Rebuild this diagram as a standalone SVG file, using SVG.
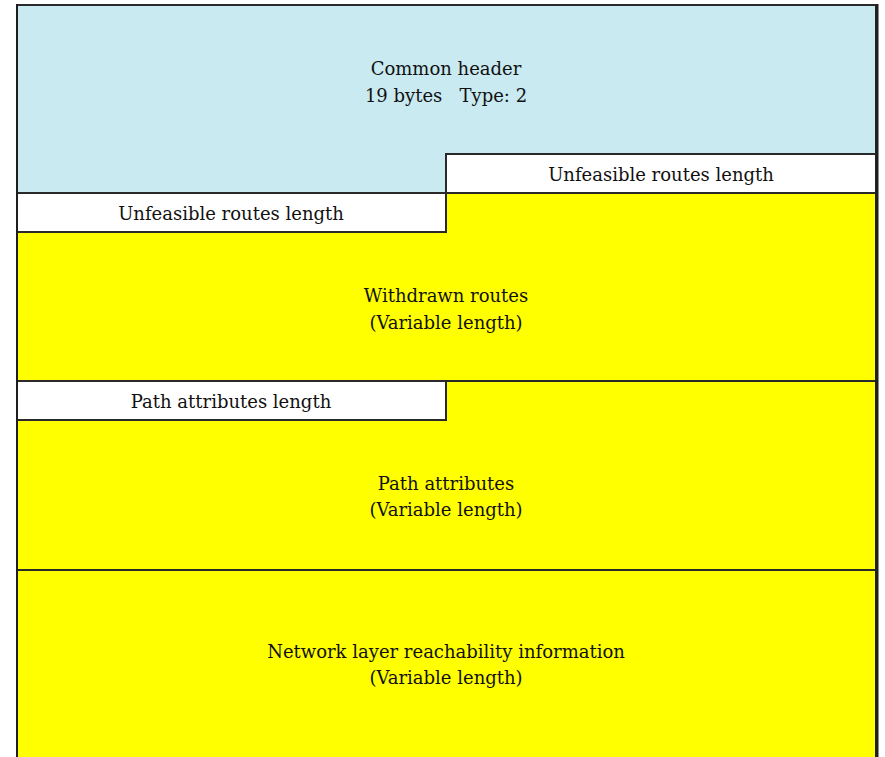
<svg xmlns="http://www.w3.org/2000/svg" width="885" height="757" viewBox="0 0 885 757">
  <style>
    .blk { stroke: #2a2a2a; stroke-width: 2; }
    .hdr { fill: #c9eaf1; }
    .fld { fill: #ffffff; }
    .var { fill: #ffff00; }
    text { font-family: "DejaVu Serif", "Liberation Serif", serif; font-size: 18px; fill: #111; text-anchor: middle; dominant-baseline: central; white-space: pre; }
  </style>
  <rect x="0" y="0" width="885" height="757" fill="#ffffff"/>

  <!-- common header (stepped lower edge) -->
  <g id="common-header">
    <path class="hdr blk" d="M17,5 H876 V154 H446 V193 H17 Z"/>
    <text x="446" y="68">Common header</text>
    <text x="446" y="95" xml:space="preserve">19 bytes   Type: 2</text>
  </g>

  <!-- withdrawn routes block -->
  <g id="withdrawn-routes">
    <path class="var blk" d="M17,232 H446 V193 H876 V381 H17 Z"/>
    <text x="446" y="295">Withdrawn routes</text>
    <text x="446" y="322">(Variable length)</text>
  </g>

  <g id="unfeasible-length-right">
    <rect class="fld blk" x="446" y="154" width="430" height="39"/>
    <text x="661" y="174">Unfeasible routes length</text>
  </g>

  <g id="unfeasible-length-left">
    <rect class="fld blk" x="17" y="193" width="429" height="39"/>
    <text x="231" y="213">Unfeasible routes length</text>
  </g>

  <!-- path attributes block -->
  <g id="path-attributes">
    <path class="var blk" d="M17,420 H446 V381 H876 V570 H17 Z"/>
    <text x="446" y="483">Path attributes</text>
    <text x="446" y="509">(Variable length)</text>
  </g>

  <g id="path-attributes-length">
    <rect class="fld blk" x="17" y="381" width="429" height="39"/>
    <text x="231" y="401">Path attributes length</text>
  </g>

  <!-- network layer reachability information -->
  <g id="nlri">
    <path class="var blk" d="M17,760 V570 H876 V760"/>
    <text x="446" y="651">Network layer reachability information</text>
    <text x="446" y="677">(Variable length)</text>
  </g>

  <!-- outer side borders, the right one heavier -->
  <g id="connectors">
    <line x1="877" y1="4" x2="877" y2="757" stroke="#1e1e1e" stroke-width="3"/>
    <line x1="17" y1="4" x2="17" y2="757" stroke="#1e1e1e" stroke-width="2"/>
  </g>
</svg>
